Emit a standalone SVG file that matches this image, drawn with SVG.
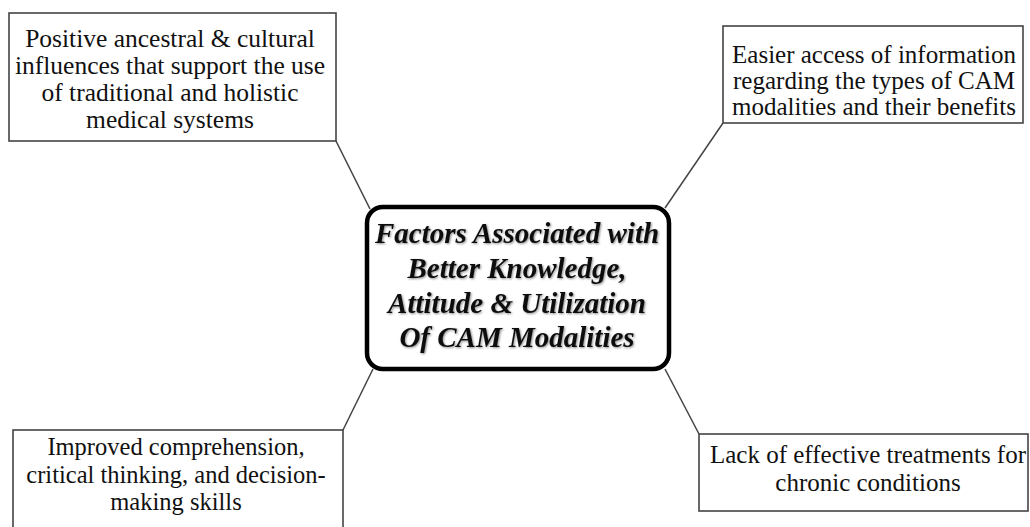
<svg xmlns="http://www.w3.org/2000/svg" width="1030" height="527" viewBox="0 0 1030 527">
<style>
.box{fill:#fff;stroke:#444;stroke-width:1.6}
.t{font-family:"Liberation Serif","Times New Roman",serif;fill:#111;text-anchor:middle}
.c{font-family:"Liberation Serif","Times New Roman",serif;font-size:29px;font-weight:bold;font-style:italic;fill:#111;text-anchor:middle}
.ln{stroke:#444;stroke-width:1.5;fill:none}
</style>
<defs>
<filter id="sh" x="-5%" y="-5%" width="110%" height="120%">
<feDropShadow dx="1" dy="1" stdDeviation="0.8" flood-color="#000" flood-opacity="0.45"/>
</filter>
</defs>
<rect width="1030" height="527" fill="#fff"/>
<g id="connectors">
<line class="ln" x1="336" y1="141" x2="370" y2="209"/>
<line class="ln" x1="723" y1="123" x2="665" y2="208"/>
<line class="ln" x1="343" y1="430" x2="373" y2="369"/>
<line class="ln" x1="699" y1="434" x2="665" y2="369"/>
</g>
<g id="center">
<rect x="367" y="207" width="302" height="162" rx="16" ry="16" fill="#fff" stroke="#000" stroke-width="4.5"/>
<g filter="url(#sh)">
<text class="c" x="517" y="243">Factors Associated with</text>
<text class="c" x="517" y="278">Better Knowledge,</text>
<text class="c" x="517" y="313">Attitude &amp; Utilization</text>
<text class="c" x="517" y="347">Of CAM Modalities</text>
</g>
</g>
<g id="n1" font-size="25.5">
<rect class="box" x="9" y="13" width="327" height="128"/>
<text class="t" x="170" y="47">Positive ancestral &amp; cultural</text>
<text class="t" x="170" y="74">influences that support the use</text>
<text class="t" x="170" y="101">of traditional and holistic</text>
<text class="t" x="170" y="128">medical systems</text>
</g>
<g id="n2" font-size="25">
<rect class="box" x="723" y="26" width="300" height="97"/>
<text class="t" x="874" y="63">Easier access of information</text>
<text class="t" x="874" y="89">regarding the types of CAM</text>
<text class="t" x="874" y="115">modalities and their benefits</text>
</g>
<g id="n3" font-size="24.5">
<rect class="box" x="13" y="430" width="330" height="110"/>
<text class="t" x="176" y="455">Improved comprehension,</text>
<text class="t" x="176" y="483">critical thinking, and decision-</text>
<text class="t" x="176" y="510">making skills</text>
</g>
<g id="n4" font-size="25">
<rect class="box" x="699" y="434" width="329" height="77"/>
<text class="t" x="868" y="463">Lack of effective treatments for</text>
<text class="t" x="868" y="491">chronic conditions</text>
</g>
</svg>
